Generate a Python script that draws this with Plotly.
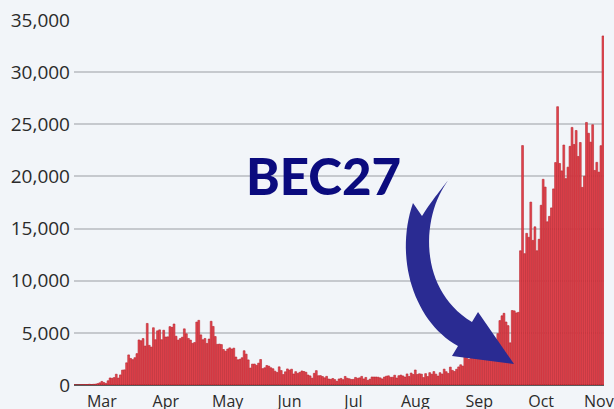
import pandas as pd
import plotly.graph_objects as go

# Daily cases, 1 Mar 2020 -> 12 Nov 2020
mar = [13, 4, 11, 34, 29, 48, 45, 69, 43, 67, 83, 134, 208, 342, 232, 152, 407, 676, 643, 714,
       1035, 665, 967, 1427, 1452, 2129, 2885, 2546, 2433, 2619, 3009]
apr = [4324, 4244, 4450, 3735, 5903, 3802, 3634, 5491, 4344, 5195, 5288, 4342, 5252, 4603, 4617,
       5599, 5526, 5850, 4676, 4301, 4451, 4583, 5386, 4913, 4463, 4309, 3996, 4076, 6032, 6201]
may = [4806, 4339, 4463, 3985, 4406, 6111, 5614, 4649, 3896, 3923, 3877, 3403, 3242, 3446, 3560,
       3450, 3534, 2684, 2412, 2472, 2615, 3287, 2959, 2405, 1625, 2004, 2013, 1887, 2095, 2445, 1570]
jun = [1653, 1871, 1805, 1650, 1557, 1326, 1205, 1741, 1387, 1003, 1266, 1541, 1425, 1514, 1056,
       1279, 1115, 1218, 1346, 1295, 1221, 958, 874, 653, 1118, 1380, 890, 901, 815, 689]
jul = [829, 576, 544, 624, 516, 352, 581, 630, 512, 820, 650, 598, 530, 538, 726, 642, 687, 827,
       580, 725, 445, 560, 769, 766, 767, 747, 685, 581, 763, 846, 880]
aug = [743, 744, 938, 670, 892, 950, 871, 758, 1062, 816, 1148, 1009, 1441, 1012, 1077, 1040, 713,
       1089, 812, 1182, 1033, 1288, 1041, 853, 1184, 1048, 1522, 1276, 1108, 1715, 1406]
sep = [1295, 1508, 1735, 1940, 1813, 2988, 2948, 2460, 2659, 2919, 3539, 3497, 3330, 2621, 3105,
       3991, 3395, 4322, 4422, 3899, 4368, 4926, 6178, 6634, 6874, 6042, 5693, 4044, 7143, 7108]
oct_ = [6914, 6968, 12872, 22961, 12594, 14542, 14162, 17540, 13864, 15166, 12872, 13972, 17234,
        19724, 18980, 15650, 16171, 16982, 18804, 21331, 26688, 21242, 20530, 23012, 19790, 20890,
        22885, 24701, 23065, 24405, 21915]
nov = [23254, 18950, 20018, 25177, 24141, 23287, 24957, 20572, 21350, 20412, 22950, 33470]

cases = mar + apr + may + jun + jul + aug + sep + oct_ + nov
dates = pd.date_range("2020-03-01", periods=len(cases), freq="D")

tick_dates = ["2020-03-14", "2020-04-14", "2020-05-14", "2020-06-13", "2020-07-14",
              "2020-08-13", "2020-09-13", "2020-10-13", "2020-11-10"]
tick_labels = ["Mar", "Apr", "May", "Jun", "Jul", "Aug", "Sep", "Oct", "Nov"]
y_ticks = [0, 5000, 10000, 15000, 20000, 25000, 30000, 35000]

W, H = 614, 409
ML, MR, MT, MB = 74, 10, 20, 24
PW, PH = W - ML - MR, H - MT - MB


def px2paper(x, y):
    return (x - ML) / PW, (H - MB - y) / PH


def cubic(p0, p1, p2, p3, n=30):
    pts = []
    for i in range(n + 1):
        t = i / n
        a = (1 - t) ** 3
        b = 3 * (1 - t) ** 2 * t
        c = 3 * (1 - t) * t ** 2
        d = t ** 3
        pts.append((a * p0[0] + b * p1[0] + c * p2[0] + d * p3[0],
                    a * p0[1] + b * p1[1] + c * p2[1] + d * p3[1]))
    return pts


def quad(p0, p1, p2, n=20):
    pts = []
    for i in range(n + 1):
        t = i / n
        pts.append(((1 - t) ** 2 * p0[0] + 2 * (1 - t) * t * p1[0] + t ** 2 * p2[0],
                    (1 - t) ** 2 * p0[1] + 2 * (1 - t) * t * p1[1] + t ** 2 * p2[1]))
    return pts


outer = cubic((413, 203), (394, 258), (414, 322), (458, 346))
head = [(452, 356), (514, 364), (478, 312), (472, 322)]
inner = cubic((450, 178), (420, 215), (418, 290), (472, 322))[::-1]
notch = quad((450, 178), (432, 200), (422, 216))
pts = outer + head + inner + notch + [(413, 203)]
path = "M " + " L ".join("%.4f,%.4f" % px2paper(x, y) for x, y in pts) + " Z"

fig = go.Figure()
fig.add_trace(go.Bar(
    x=dates, y=cases,
    marker=dict(color="#e3464f", line=dict(color="#b8222c", width=0.6)),
))

bg = "#f2f5f9"
fig.update_layout(
    width=W, height=H,
    margin=dict(l=ML, r=MR, t=MT, b=MB, autoexpand=False),
    paper_bgcolor=bg, plot_bgcolor=bg,
    bargap=0.12,
    showlegend=False,
    font=dict(family="Open Sans", color="#2b2b2b"),
    xaxis=dict(
        range=["2020-02-29 12:00", "2020-11-12 12:00"],
        tickvals=tick_dates, ticktext=tick_labels,
        showgrid=False, ticks="", tickfont=dict(size=16, color="#2b2b2b"),
        showline=False, zeroline=False, automargin=False,
        ticklabelstandoff=5,
    ),
    yaxis=dict(
        range=[0, 35000], tickvals=y_ticks, tickformat=",",
        showgrid=True, gridcolor="#c6c9ce", gridwidth=1.5,
        zeroline=True, zerolinecolor="#5a5a5a", zerolinewidth=1.5,
        ticks="", tickfont=dict(size=19, color="#2b2b2b"),
        showline=False, automargin=False, ticklabelstandoff=3,
    ),
    shapes=[dict(type="path", path=path, xref="paper", yref="paper",
                 fillcolor="#2a2b92", line=dict(width=0), layer="above")],
    annotations=[dict(
        text="BEC27", xref="paper", yref="paper",
        x=px2paper(323, 175)[0], y=px2paper(323, 175)[1],
        xanchor="center", yanchor="middle", showarrow=False,
        font=dict(family="Lato", size=51, color="#0b0b7e", weight=900),
    )],
)

fig.write_html(
    "out.html",
    config={"displayModeBar": False},
    post_script="document.body.style.margin='0';document.body.style.padding='0';"
                "document.body.style.overflow='hidden';"
                "document.body.style.background='" + bg + "';",
)
